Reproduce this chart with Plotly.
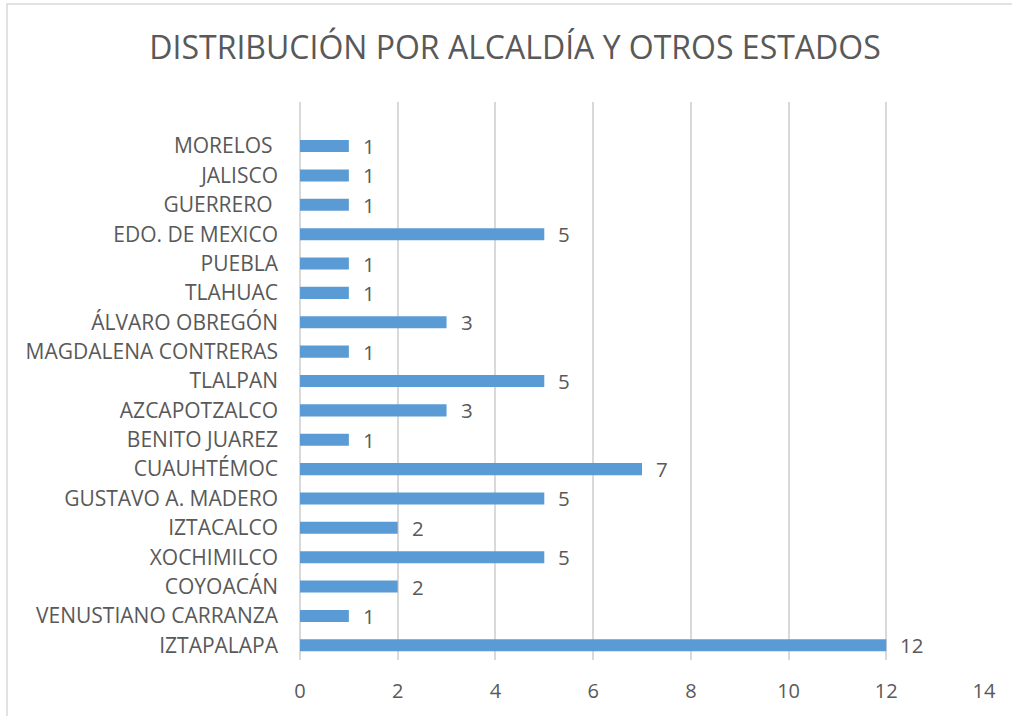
import plotly.graph_objects as go

# categories listed bottom to top, as they appear on the axis
places = [
    "IZTAPALAPA",
    "VENUSTIANO CARRANZA",
    "COYOACÁN",
    "XOCHIMILCO",
    "IZTACALCO",
    "GUSTAVO A. MADERO",
    "CUAUHTÉMOC",
    "BENITO JUAREZ",
    "AZCAPOTZALCO",
    "TLALPAN",
    "MAGDALENA CONTRERAS",
    "ÁLVARO OBREGÓN",
    "TLAHUAC",
    "PUEBLA",
    "EDO. DE MEXICO",
    "GUERRERO ",
    "JALISCO",
    "MORELOS ",
]
counts = [12, 1, 2, 5, 2, 5, 7, 1, 3, 5, 1, 3, 1, 1, 5, 1, 1, 1]
x_ticks = [0, 2, 4, 6, 8, 10, 12, 14]

bar_color = "#5B9BD5"
text_color = "#595959"
grid_color = "#D9D9D9"
font_family = "'Open Sans', sans-serif"

fig = go.Figure()

fig.add_trace(
    go.Bar(
        x=counts,
        y=places,
        orientation="h",
        marker={"color": bar_color, "line": {"width": 0}},
        showlegend=False,
    )
)

# value labels to the right of each bar
for place, n in zip(places, counts):
    fig.add_annotation(
        x=n,
        y=place,
        text=str(n),
        showarrow=False,
        xanchor="left",
        xshift=12,
        font={"size": 20.5, "color": text_color, "family": font_family},
    )

W, H = 1012, 716
L, T, R, B = 300, 102, 28, 56
pw, ph = W - L - R, H - T - B


def px_x(x):
    return (x - L) / pw


def px_y(y):
    return (T + ph - y) / ph


# outer chart border (only top and left edges fall inside the picture)
fig.add_shape(
    type="rect",
    xref="paper",
    yref="paper",
    x0=px_x(7),
    x1=px_x(1060),
    y0=px_y(780),
    y1=px_y(4),
    line={"color": "#D9D9D9", "width": 1.5},
    fillcolor="rgba(0,0,0,0)",
    layer="below",
)

fig.update_layout(
    title={
        "text": "DISTRIBUCIÓN POR ALCALDÍA Y OTROS ESTADOS",
        "x": px_x(515),
        "xref": "paper",
        "y": 1 - 48 / H,
        "yanchor": "middle",
        "xanchor": "center",
        "font": {"size": 32, "color": text_color, "family": font_family},
    },
    width=W,
    height=H,
    margin={"l": L, "r": R, "t": T, "b": B, "autoexpand": False},
    plot_bgcolor="white",
    paper_bgcolor="white",
    bargap=0.59,
    font={"family": font_family, "color": text_color},
)

fig.update_xaxes(
    range=[0, 14],
    tickvals=x_ticks,
    showgrid=True,
    gridcolor=grid_color,
    gridwidth=1.5,
    zeroline=True,
    zerolinecolor=grid_color,
    zerolinewidth=1.5,
    showline=False,
    ticks="",
    ticklabelstandoff=17,
    tickfont={"size": 20, "color": text_color, "family": font_family},
)

fig.update_yaxes(
    type="category",
    categoryorder="array",
    categoryarray=places,
    range=[-0.5, len(places) + 0.5],
    showgrid=False,
    zeroline=False,
    showline=False,
    ticks="",
    ticklabelstandoff=21,
    tickfont={"size": 21, "color": text_color, "family": font_family},
)

# drop the browser's default body margin so the figure sits at the window corner
fig.write_html(
    "out.html",
    config={"displayModeBar": False},
    post_script="document.body.style.margin='0';",
)
